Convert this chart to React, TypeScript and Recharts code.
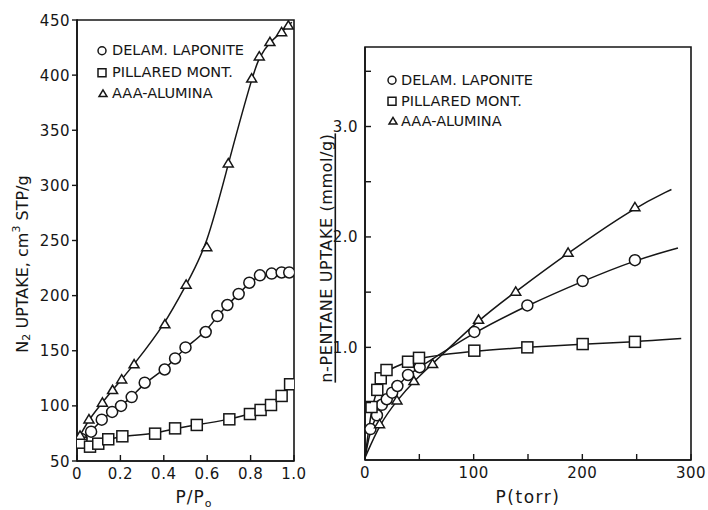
import React from 'react';
import { ComposedChart, Line, Scatter, XAxis, YAxis, ReferenceArea } from 'recharts';

const seriesNames = ['DELAM. LAPONITE', 'PILLARED MONT.', 'AAA-ALUMINA'];
const seriesShapes = ['circle', 'square', 'triangle'];

// left panel: N2 uptake vs P/Po
const n2LapX = [0.02, 0.065, 0.114, 0.162, 0.203, 0.252, 0.312, 0.404, 0.452, 0.5, 0.593, 0.647, 0.693, 0.745, 0.794, 0.843, 0.897, 0.943, 0.978];
const n2LapY = [70, 76.6, 87.5, 94.5, 100, 108, 121, 133, 143, 153, 167, 181.5, 191.5, 201.5, 211.7, 218.4, 220, 221, 221];
const n2LapEnds = [[0, 67], [1.0, 221]];

const n2PilX = [0.02, 0.06, 0.098, 0.144, 0.209, 0.36, 0.452, 0.552, 0.702, 0.797, 0.846, 0.894, 0.943, 0.982];
const n2PilY = [66.6, 63, 65.7, 69.7, 72.4, 74.8, 79.6, 82.7, 87.8, 92.6, 96.3, 100.8, 109, 119.6];
const n2PilEnds = [[0, 68], [1.0, 124]];

const n2AluX = [0.014, 0.055, 0.117, 0.164, 0.206, 0.263, 0.405, 0.503, 0.598, 0.697, 0.805, 0.84, 0.889, 0.943, 0.974];
const n2AluY = [73, 87.8, 103, 114.4, 124, 137.7, 174, 210, 244, 320, 397, 417, 430, 439, 445];
const n2AluEnds = [[0, 69], [0.99, 448]];

const n2XTicks = [0, 0.2, 0.4, 0.6, 0.8, 1.0];
const n2XLabels = ['0', '0.2', '0.4', '0.6', '0.8', '1.0'];
const n2YTicks = [50, 100, 150, 200, 250, 300, 350, 400, 450];

// right panel: n-pentane uptake vs P (torr)
const pnLapX = [5, 11, 15.5, 20, 25, 29.8, 39.6, 50.3, 100.6, 149.4, 200.3, 248.4];
const pnLapY = [0.26, 0.385, 0.48, 0.53, 0.59, 0.65, 0.75, 0.82, 1.14, 1.38, 1.6, 1.79];
const pnLapEnds = [[0, 0], [288, 1.9]];

const pnPilX = [6, 11.3, 14.5, 19.8, 39.6, 49.7, 100.6, 149.4, 200.3, 248.4];
const pnPilY = [0.46, 0.615, 0.72, 0.795, 0.87, 0.905, 0.97, 1.0, 1.03, 1.05];
const pnPilEnds = [[0, 0], [291, 1.08]];

const pnAluX = [13.4, 29.4, 45, 62.2, 104.5, 138.7, 186.9, 248.4];
const pnAluY = [0.305, 0.52, 0.695, 0.85, 1.25, 1.505, 1.857, 2.27];
const pnAluEnds = [[0, 0], [282, 2.43]];

const pnXTicks = [0, 50, 100, 150, 200, 250, 300];
const pnXLabels = ['0', '', '100', '', '200', '', '300'];
const pnYTicks = [0.5, 1.0, 1.5, 2.0, 2.5, 3.0, 3.5];
const pnYLabels = ['', '1.0', '', '2.0', '', '3.0', ''];

const INK = '#161616';
const FONT = '"DejaVu Sans", Arial, sans-serif';

const pts = (xs: number[], ys: number[]) => xs.map((x, i) => ({ x, y: ys[i] }));
const curve = (xs: number[], ys: number[], ends: number[][]) => [
  { x: ends[0][0], y: ends[0][1] },
  ...pts(xs, ys),
  { x: ends[1][0], y: ends[1][1] },
];

const Marker = ({ cx, cy, kind, r = 5.5 }: any) => {
  if (cx == null || cy == null) return null;
  const common = { fill: '#fff', stroke: INK, strokeWidth: 1.5 };
  if (kind === 'square') return <rect x={cx - r} y={cy - r} width={r * 2} height={r * 2} {...common} />;
  if (kind === 'triangle') {
    const s = r * 0.95;
    return <polygon points={`${cx},${cy - s} ${cx - s * 1.05},${cy + s * 0.75} ${cx + s * 1.05},${cy + s * 0.75}`} {...common} />;
  }
  return <circle cx={cx} cy={cy} r={r} {...common} />;
};

const BottomTick = ({ x, y, index, labels }: any) => (
  <g>
    <line x1={x} y1={y} x2={x} y2={y - 6} stroke={INK} strokeWidth={1.4} />
    <text x={x} y={y + 18} textAnchor="middle" fontSize={15} letterSpacing={0.5} fill={INK} fontFamily={FONT}>
      {labels[index]}
    </text>
  </g>
);

const LeftTick = ({ x, y, index, labels, inward }: any) => (
  <g>
    <line x1={inward ? x : x - 5} y1={y} x2={inward ? x + 6 : x + 1} y2={y} stroke={INK} strokeWidth={1.4} />
    <text x={x - 7} y={y + 5.5} textAnchor="end" fontSize={15} letterSpacing={0.5} fill={INK} fontFamily={FONT}>
      {labels[index]}
    </text>
  </g>
);

const LegendBox = ({ left, top, rowH, gap }: any) => (
  <div style={{ position: 'absolute', left, top, fontFamily: FONT, fontSize: 14.5, color: INK, lineHeight: `${rowH}px` }}>
    {seriesNames.map((name, i) => (
      <div key={name} style={{ display: 'flex', alignItems: 'center', height: rowH, whiteSpace: 'nowrap' }}>
        <svg width={gap} height={rowH} style={{ flex: 'none' }}>
          <Marker cx={seriesShapes[i] === 'triangle' ? 6 : 5} cy={rowH / 2} kind={seriesShapes[i]} r={4} />
        </svg>
        <span>{name}</span>
      </div>
    ))}
  </div>
);

const lineProps = {
  type: 'basis' as const,
  dataKey: 'y',
  stroke: INK,
  strokeWidth: 1.5,
  dot: false,
  activeDot: false,
  isAnimationActive: false,
  legendType: 'none' as const,
};

const axisCommon = {
  type: 'number' as const,
  interval: 0 as const,
  tickSize: 0,
  tickMargin: 0,
  tickLine: false,
  axisLine: { stroke: INK, strokeWidth: 1.6 },
  allowDataOverflow: true,
};

export default function App() {
  const n2Series = [
    { curve: curve(n2LapX, n2LapY, n2LapEnds), pts: pts(n2LapX, n2LapY) },
    { curve: curve(n2PilX, n2PilY, n2PilEnds), pts: pts(n2PilX, n2PilY) },
    { curve: curve(n2AluX, n2AluY, n2AluEnds), pts: pts(n2AluX, n2AluY) },
  ];
  const pnSeries = [
    { curve: curve(pnLapX, pnLapY, pnLapEnds), pts: pts(pnLapX, pnLapY) },
    { curve: curve(pnPilX, pnPilY, pnPilEnds), pts: pts(pnPilX, pnPilY) },
    { curve: curve(pnAluX, pnAluY, pnAluEnds), pts: pts(pnAluX, pnAluY) },
  ];

  return (
    <div style={{ position: 'absolute', left: 0, top: 0, width: 708, height: 510, background: '#fff', overflow: 'hidden' }}>
      <div style={{ position: 'absolute', left: 0, top: 0 }}>
        <ComposedChart width={312} height={510} margin={{ top: 20, right: 18, bottom: 19, left: 17 }}>
          <XAxis {...axisCommon} dataKey="x" domain={[0, 1]} ticks={n2XTicks} height={30} tick={<BottomTick labels={n2XLabels} />} />
          <YAxis {...axisCommon} dataKey="y" domain={[50, 450]} ticks={n2YTicks} width={60} tick={<LeftTick labels={n2YTicks.map(String)} />} />
          <ReferenceArea x1={0} x2={1} y1={50} y2={450} fill="none" stroke={INK} strokeWidth={1.6} ifOverflow="visible" />
          {n2Series.map((s, i) => (
            <Line key={'l' + i} data={s.curve} {...lineProps} />
          ))}
          {n2Series.map((s, i) => (
            <Scatter
              key={'s' + i}
              data={s.pts}
              dataKey="y"
              isAnimationActive={false}
              legendType="none"
              shape={(p: any) => <Marker cx={p.cx} cy={p.cy} kind={seriesShapes[i]} r={seriesShapes[i] === 'triangle' ? 5 : 5.5} />}
            />
          ))}
          <text x={22} y={264} transform="rotate(-90 22 264)" textAnchor="middle" dominantBaseline="central" fontSize={16} fill={INK} fontFamily={FONT}>
            N<tspan fontSize={11} dy={4}>2</tspan>
            <tspan dy={-4}> UPTAKE,  cm</tspan>
            <tspan fontSize={11} dy={-6}>3</tspan>
            <tspan dy={6}> STP/g</tspan>
          </text>
          <text x={194} y={503} textAnchor="middle" fontSize={17} letterSpacing={1} fill={INK} fontFamily={FONT}>
            P/P<tspan fontSize={11} dy={4}>o</tspan>
          </text>
        </ComposedChart>
      </div>

      <div style={{ position: 'absolute', left: 300, top: 0 }}>
        <ComposedChart width={408} height={510} margin={{ top: 47, right: 17, bottom: 20, left: 5 }}>
          <XAxis {...axisCommon} dataKey="x" domain={[0, 300]} ticks={pnXTicks} height={30} tick={<BottomTick labels={pnXLabels} />} />
          <YAxis {...axisCommon} dataKey="y" domain={[-0.02, 3.72]} ticks={pnYTicks} width={60} tick={<LeftTick labels={pnYLabels} inward />} />
          <ReferenceArea x1={0} x2={300} y1={-0.02} y2={3.72} fill="none" stroke={INK} strokeWidth={1.6} ifOverflow="visible" />
          {pnSeries.map((s, i) => (
            <Line key={'l' + i} data={s.curve} {...lineProps} />
          ))}
          {pnSeries.map((s, i) => (
            <Scatter
              key={'s' + i}
              data={s.pts}
              dataKey="y"
              isAnimationActive={false}
              legendType="none"
              shape={(p: any) => <Marker cx={p.cx} cy={p.cy} kind={seriesShapes[i]} r={seriesShapes[i] === 'triangle' ? 5 : 5.5} />}
            />
          ))}
          <text x={26} y={258} transform="rotate(-90 26 258)" textAnchor="middle" dominantBaseline="central" fontSize={16} letterSpacing={0.6} fill={INK} fontFamily={FONT} textDecoration="underline">
            n-PENTANE UPTAKE  (mmol/g)
          </text>
          <text x={228} y={503} textAnchor="middle" fontSize={17} letterSpacing={1.5} fill={INK} fontFamily={FONT}>
            P(torr)
          </text>
        </ComposedChart>
      </div>

      <LegendBox left={97} top={40} rowH={21.5} gap={15} />
      <LegendBox left={387} top={70} rowH={20.5} gap={14} />
    </div>
  );
}
